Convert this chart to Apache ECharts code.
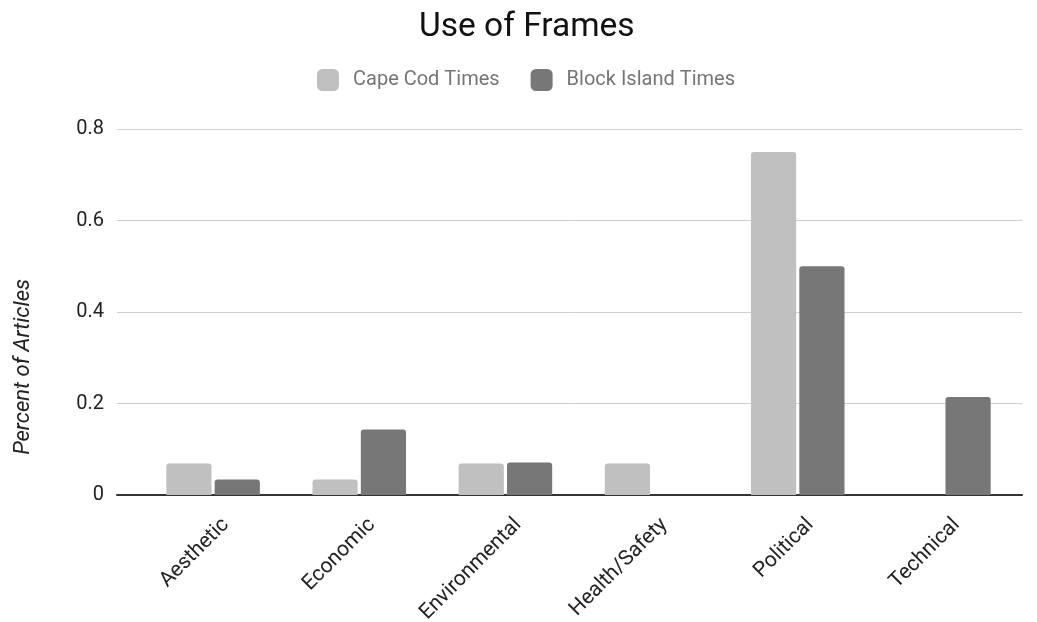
<!DOCTYPE html>
<html>
<head>
<meta charset="utf-8">
<script src="https://cdn.jsdelivr.net/npm/echarts@6/dist/echarts.min.js"></script>
<style>
  html, body { margin: 0; padding: 0; background: #fff; }
  #chart { width: 1037px; height: 622px; }
</style>
</head>
<body>
<div id="chart"></div>
<script>
// data
var categories = ['Aesthetic', 'Economic', 'Environmental', 'Health/Safety', 'Political', 'Technical'];
var capeCod = [0.069, 0.034, 0.069, 0.069, 0.75, 0];
var blockIsland = [0.034, 0.143, 0.071, 0, 0.5, 0.214];
var seriesNames = ['Cape Cod Times', 'Block Island Times'];

var myChart = echarts.init(document.getElementById('chart'));

var option = {
    backgroundColor: '#fff',
    textStyle: { fontFamily: 'Roboto' },
    color: ['#c0c0c0', '#777777'],
    title: {
        text: 'Use of Frames',
        left: 414,
        top: 6,
        textStyle: { fontFamily: 'Roboto', fontSize: 33.5, fontWeight: 'normal', color: '#111' }
    },
    legend: {
        top: 64,
        left: 312,
        itemWidth: 22,
        itemHeight: 22,
        itemGap: 31,
        icon: 'roundRect',
        textStyle: { fontFamily: 'Roboto', fontSize: 20, color: '#757575', padding: [0, 0, 0, 9] },
        data: seriesNames
    },
    graphic: [{
        type: 'text',
        left: 12,
        top: 279,
        rotation: Math.PI / 2,
        style: {
            text: 'Percent of Articles',
            font: 'italic 22px Roboto',
            fill: '#222'
        }
    }],
    // grid 0: gridlines and y labels, grid 1: bars
    grid: [
        { left: 117, right: 15, top: 129, bottom: 127, outerBoundsMode: 'none' },
        { left: 140, right: 20, top: 129, bottom: 127, outerBoundsMode: 'none' }
    ],
    xAxis: [
        {
            type: 'category',
            gridIndex: 0,
            data: categories,
            axisLine: { show: true, lineStyle: { color: '#333', width: 2 } },
            axisTick: { show: false },
            axisLabel: { show: false }
        },
        {
            type: 'category',
            gridIndex: 1,
            data: categories,
            axisLine: { show: false },
            axisTick: { show: false },
            axisLabel: {
                rotate: 45,
                margin: 14,
                verticalAlign: 'top',
                lineHeight: 36,
                fontFamily: 'Roboto',
                fontSize: 21,
                color: '#222'
            }
        }
    ],
    yAxis: [
        {
            type: 'value',
            gridIndex: 0,
            min: 0,
            max: 0.8,
            interval: 0.2,
            axisLine: { show: false },
            axisTick: { show: false },
            axisLabel: {
                margin: 13,
                fontFamily: 'Roboto',
                fontSize: 20,
                color: '#222',
                formatter: function (v) { return v === 0 ? '0' : v.toFixed(1); }
            },
            splitLine: { lineStyle: { color: '#d0d0d0', width: 1 } }
        },
        {
            type: 'value',
            gridIndex: 1,
            min: 0,
            max: 0.8,
            interval: 0.2,
            show: false,
            splitLine: { show: false }
        }
    ],
    series: [
        {
            name: seriesNames[0],
            type: 'bar',
            xAxisIndex: 1,
            yAxisIndex: 1,
            data: capeCod,
            barGap: '7%',
            barCategoryGap: '36%',
            itemStyle: { color: '#c0c0c0', borderRadius: [3, 3, 0, 0] }
        },
        {
            name: seriesNames[1],
            type: 'bar',
            xAxisIndex: 1,
            yAxisIndex: 1,
            data: blockIsland,
            barGap: '7%',
            barCategoryGap: '36%',
            itemStyle: { color: '#777777', borderRadius: [3, 3, 0, 0] }
        }
    ]
};

myChart.setOption(option);
</script>
</body>
</html>
